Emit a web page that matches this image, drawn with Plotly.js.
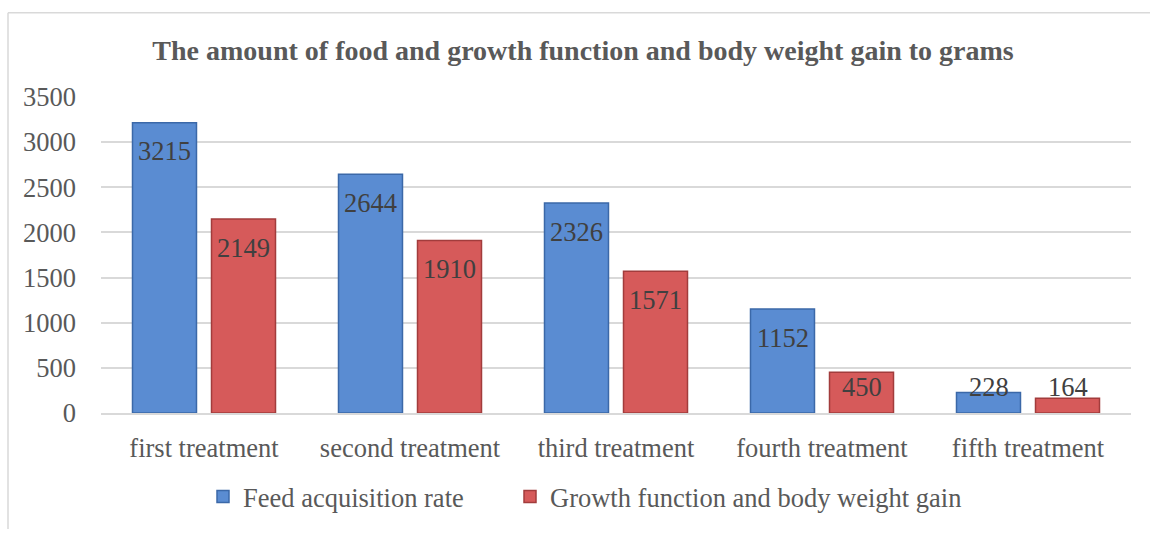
<!DOCTYPE html>
<html>
<head>
<meta charset="utf-8">
<script src="https://cdn.plot.ly/plotly-3.0.1.min.js"></script>
<style>html,body{margin:0;padding:0;background:#fff;}#chart{width:1150px;height:533px;}</style>
</head>
<body>
<div id="chart"></div>
<script>
var categories = ["first treatment", "second treatment", "third treatment", "fourth treatment", "fifth treatment"];
var feedValues = [3215, 2644, 2326, 1152, 228];
var growthValues = [2149, 1910, 1571, 450, 164];
var seriesNames = ["Feed acquisition rate", "Growth function and body weight gain"];
var yTicks = [0, 500, 1000, 1500, 2000, 2500, 3000, 3500];

var font = "'Liberation Serif', 'Times New Roman', serif";

var traces = [
  {type: 'bar', name: seriesNames[0], x: categories, y: feedValues, legend: 'legend',
   marker: {color: '#5A8CD2', line: {color: '#3B68A8', width: 1.5}}, hoverinfo: 'y'},
  {type: 'bar', name: seriesNames[1], x: categories, y: growthValues, legend: 'legend2',
   marker: {color: '#D65A5A', line: {color: '#A23C3C', width: 1.5}}, hoverinfo: 'y'}
];

var pxPerUnit = 319 / 3500;
function labelY(v) { return Math.max(v - 29 / pxPerUnit, 26 / pxPerUnit); }
var annotations = [];
[feedValues, growthValues].forEach(function (vals, s) {
  vals.forEach(function (v, i) {
    annotations.push({x: categories[i], y: labelY(v), xref: 'x', yref: 'y',
      text: String(v), showarrow: false, xshift: s === 0 ? -39.5 : 39.5,
      yanchor: 'middle', font: {family: font, size: 26.5, color: '#404040'}});
  });
});

var legendFont = {family: font, size: 26.5, color: '#595959'};
var layout = {
  width: 1150, height: 533,
  margin: {l: 101, r: 19, t: 97, b: 117},
  paper_bgcolor: '#ffffff', plot_bgcolor: '#ffffff',
  title: {text: '<b>The amount of food and growth function and body weight gain to grams</b>',
    font: {family: font, size: 28, color: '#595959'}, x: 0.507, xanchor: 'center', y: 0.905, yanchor: 'middle'},
  barmode: 'group', bargap: 0.233, bargroupgap: 0.19,
  xaxis: {type: 'category', tickfont: {family: font, size: 26.5, color: '#595959'},
    showline: true, linecolor: '#D9D9D9', linewidth: 2, ticks: '', showgrid: false, zeroline: false,
    ticklabelstandoff: 10},
  yaxis: {range: [0, 3500], tickvals: yTicks, ticktext: yTicks.map(String),
    tickfont: {family: font, size: 26.5, color: '#595959'}, showgrid: true, gridcolor: '#D9D9D9', gridwidth: 2,
    zeroline: false, showline: false, ticks: '', ticklabelstandoff: 24},
  showlegend: true,
  legend: {orientation: 'h', x: (203 - 101) / 1030, xanchor: 'left', y: -0.265, yanchor: 'middle',
    font: legendFont, itemwidth: 30},
  legend2: {orientation: 'h', x: (510 - 101) / 1030, xanchor: 'left', y: -0.265, yanchor: 'middle',
    font: legendFont, itemwidth: 30},
  annotations: annotations,
  shapes: [
    {type: 'line', xref: 'paper', yref: 'paper', x0: (8 - 101) / 1030, x1: (1150 - 101) / 1030,
     y0: (533 - 117 - 12) / 319, y1: (533 - 117 - 12) / 319, line: {color: '#D9D9D9', width: 1.5}},
    {type: 'line', xref: 'paper', yref: 'paper', x0: (8 - 101) / 1030, x1: (8 - 101) / 1030,
     y0: (533 - 117 - 12) / 319, y1: -117 / 319, line: {color: '#D9D9D9', width: 1.5}}
  ]
};

Plotly.newPlot('chart', traces, layout, {displayModeBar: false, staticPlot: true});
</script>
</body>
</html>
